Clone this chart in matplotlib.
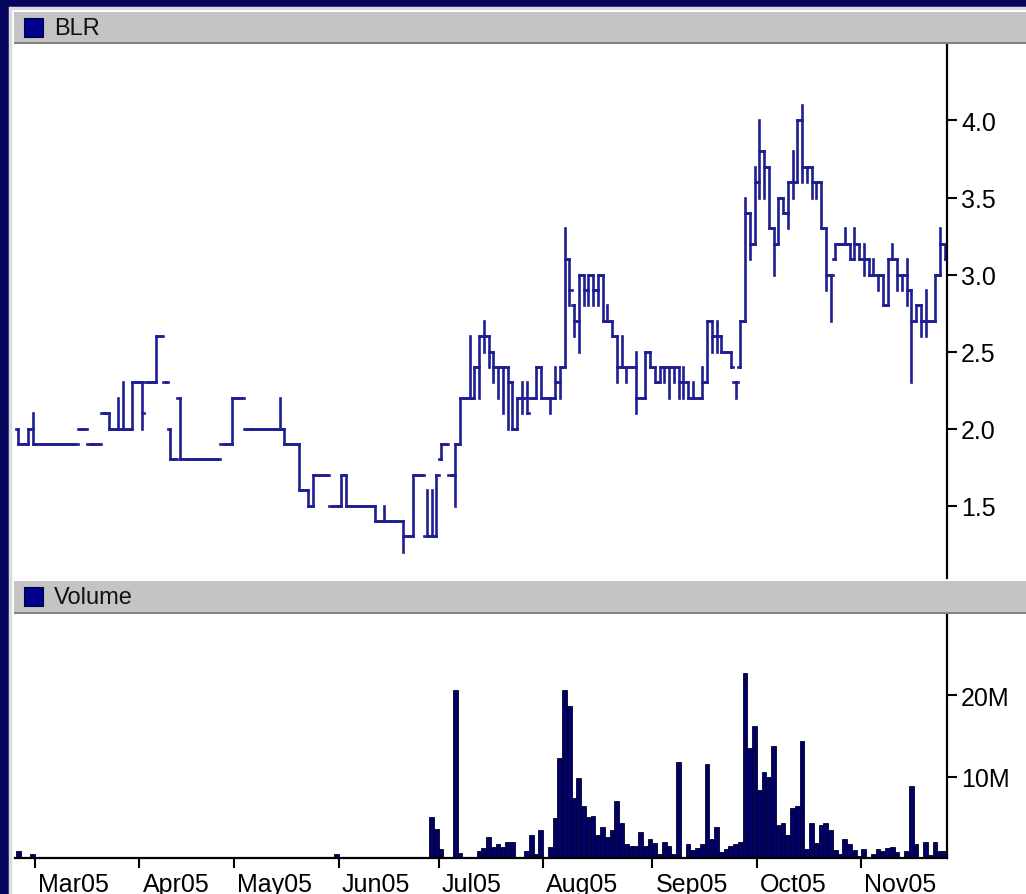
import numpy as np
import matplotlib
matplotlib.use("Agg")
import matplotlib.pyplot as plt
from matplotlib.collections import LineCollection
from matplotlib.patches import Rectangle
from matplotlib.transforms import ScaledTranslation

# --------------------------------------------------------------------- #
# Data: BLR daily bars, one entry per trading day (index 0 = mid Feb 05)
# --------------------------------------------------------------------- #
opens = [
    2.0, 1.9, 1.9, 2.0, 1.9, 1.9, 1.9, 1.9, 1.9, 1.9,
    1.9, 1.9, 1.9, 2.0, 2.0, 1.9, 1.9, 1.9, 2.1, 2.1,
    2.0, 2.0, 2.0, 2.0, 2.0, 2.3, 2.3, 2.3, 2.3, 2.3,
    2.6, 2.3, 2.0, 1.8, 2.2, 1.8, 1.8, 1.8, 1.8, 1.8,
    1.8, 1.8, 1.8, 1.9, 1.9, 1.9, 2.2, 2.2, 2.0, 2.0,
    2.0, 2.0, 2.0, 2.0, 2.0, 2.0, 2.0, 1.9, 1.9, 1.9,
    1.6, 1.6, 1.5, 1.7, 1.7, 1.7, 1.5, 1.5, 1.5, 1.7,
    1.5, 1.5, 1.5, 1.5, 1.5, 1.5, 1.4, 1.4, 1.4, 1.4,
    1.4, 1.4, 1.3, 1.3, 1.7, 1.7, 1.3, 1.3, 1.3, 1.8,
    1.9, 1.7, 1.7, 1.9, 2.2, 2.2, 2.2, 2.4, 2.6, 2.6,
    2.5, 2.4, 2.4, 2.4, 2.3, 2.0, 2.2, 2.2, 2.2, 2.2,
    2.4, 2.2, 2.2, 2.2, 2.3, 2.4, 3.1, 2.8, 2.7, 3.0,
    2.9, 3.0, 2.9, 3.0, 2.7, 2.7, 2.6, 2.4, 2.4, 2.4,
    2.4, 2.2, 2.2, 2.5, 2.4, 2.3, 2.4, 2.4, 2.4, 2.4,
    2.3, 2.3, 2.2, 2.2, 2.2, 2.3, 2.7, 2.6, 2.6, 2.5,
    2.5, 2.3, 2.4, 2.7, 3.4, 3.2, 3.6, 3.8, 3.7, 3.3,
    3.2, 3.5, 3.4, 3.6, 3.6, 4.0, 3.7, 3.7, 3.6, 3.6,
    3.3, 3.0, 3.1, 3.2, 3.2, 3.2, 3.1, 3.2, 3.1, 3.1,
    3.0, 3.0, 3.0, 2.8, 3.1, 3.1, 3.0, 3.0, 2.9, 2.7,
    2.8, 2.7, 2.7, 2.7, 3.0, 3.2,
]
highs = [
    2.0, 1.9, 2.0, 2.1, 1.9, 1.9, 1.9, 1.9, 1.9, 1.9,
    1.9, 1.9, 1.9, 2.0, 2.0, 1.9, 1.9, 1.9, 2.1, 2.1,
    2.0, 2.2, 2.3, 2.0, 2.3, 2.3, 2.3, 2.3, 2.3, 2.6,
    2.6, 2.3, 2.0, 1.8, 2.2, 1.8, 1.8, 1.8, 1.8, 1.8,
    1.8, 1.8, 1.8, 1.9, 1.9, 2.2, 2.2, 2.2, 2.0, 2.0,
    2.0, 2.0, 2.0, 2.0, 2.0, 2.2, 2.0, 1.9, 1.9, 1.9,
    1.6, 1.6, 1.7, 1.7, 1.7, 1.7, 1.5, 1.5, 1.7, 1.7,
    1.5, 1.5, 1.5, 1.5, 1.5, 1.5, 1.4, 1.5, 1.4, 1.4,
    1.4, 1.4, 1.3, 1.7, 1.7, 1.7, 1.6, 1.6, 1.7, 1.9,
    1.9, 1.7, 1.9, 2.2, 2.2, 2.6, 2.4, 2.6, 2.7, 2.6,
    2.5, 2.4, 2.4, 2.4, 2.3, 2.2, 2.3, 2.3, 2.2, 2.4,
    2.4, 2.2, 2.2, 2.4, 2.4, 3.3, 3.1, 2.8, 3.0, 3.0,
    3.0, 3.0, 3.0, 3.0, 2.8, 2.7, 2.6, 2.6, 2.4, 2.4,
    2.5, 2.2, 2.5, 2.5, 2.4, 2.4, 2.4, 2.4, 2.4, 2.4,
    2.4, 2.3, 2.3, 2.2, 2.4, 2.7, 2.7, 2.7, 2.6, 2.5,
    2.5, 2.3, 2.7, 3.5, 3.4, 3.7, 4.0, 3.8, 3.7, 3.3,
    3.5, 3.5, 3.6, 3.8, 4.0, 4.1, 3.7, 3.7, 3.6, 3.6,
    3.3, 3.0, 3.2, 3.2, 3.3, 3.2, 3.3, 3.2, 3.2, 3.1,
    3.1, 3.0, 3.0, 3.1, 3.2, 3.1, 3.0, 3.1, 2.9, 2.8,
    2.8, 2.9, 2.7, 3.0, 3.3, 3.2,
]
lows = [
    1.9, 1.9, 1.9, 1.9, 1.9, 1.9, 1.9, 1.9, 1.9, 1.9,
    1.9, 1.9, 1.9, 2.0, 2.0, 1.9, 1.9, 1.9, 2.1, 2.0,
    2.0, 2.0, 2.0, 2.0, 2.0, 2.3, 2.0, 2.3, 2.3, 2.3,
    2.6, 2.3, 1.8, 1.8, 1.8, 1.8, 1.8, 1.8, 1.8, 1.8,
    1.8, 1.8, 1.8, 1.9, 1.9, 1.9, 2.2, 2.2, 2.0, 2.0,
    2.0, 2.0, 2.0, 2.0, 2.0, 2.0, 1.9, 1.9, 1.9, 1.6,
    1.6, 1.5, 1.5, 1.7, 1.7, 1.7, 1.5, 1.5, 1.5, 1.5,
    1.5, 1.5, 1.5, 1.5, 1.5, 1.4, 1.4, 1.4, 1.4, 1.4,
    1.4, 1.2, 1.3, 1.3, 1.7, 1.7, 1.3, 1.3, 1.3, 1.8,
    1.9, 1.7, 1.5, 1.9, 2.2, 2.2, 2.2, 2.2, 2.5, 2.4,
    2.3, 2.2, 2.1, 2.0, 2.0, 2.0, 2.1, 2.1, 2.2, 2.2,
    2.2, 2.2, 2.1, 2.2, 2.2, 2.4, 2.8, 2.6, 2.5, 2.8,
    2.8, 2.8, 2.8, 2.7, 2.7, 2.6, 2.3, 2.4, 2.3, 2.4,
    2.1, 2.2, 2.2, 2.4, 2.3, 2.3, 2.3, 2.2, 2.3, 2.2,
    2.2, 2.2, 2.2, 2.2, 2.2, 2.3, 2.5, 2.5, 2.5, 2.5,
    2.4, 2.2, 2.4, 2.7, 3.1, 3.2, 3.5, 3.5, 3.3, 3.0,
    3.2, 3.4, 3.3, 3.5, 3.6, 3.6, 3.6, 3.5, 3.5, 3.3,
    2.9, 2.7, 3.1, 3.2, 3.2, 3.1, 3.1, 3.1, 3.0, 3.0,
    3.0, 2.9, 2.8, 2.8, 3.1, 2.9, 2.9, 2.8, 2.3, 2.7,
    2.6, 2.6, 2.7, 2.7, 3.0, 3.1,
]
closes = [
    1.9, 1.9, 2.0, 1.9, 1.9, 1.9, 1.9, 1.9, 1.9, 1.9,
    1.9, 1.9, 1.9, 2.0, 2.0, 1.9, 1.9, 1.9, 2.1, 2.0,
    2.0, 2.0, 2.0, 2.0, 2.3, 2.3, 2.1, 2.3, 2.3, 2.6,
    2.6, 2.3, 1.8, 1.8, 1.8, 1.8, 1.8, 1.8, 1.8, 1.8,
    1.8, 1.8, 1.8, 1.9, 1.9, 2.2, 2.2, 2.2, 2.0, 2.0,
    2.0, 2.0, 2.0, 2.0, 2.0, 2.0, 1.9, 1.9, 1.9, 1.6,
    1.6, 1.5, 1.7, 1.7, 1.7, 1.7, 1.5, 1.5, 1.7, 1.5,
    1.5, 1.5, 1.5, 1.5, 1.5, 1.4, 1.4, 1.4, 1.4, 1.4,
    1.4, 1.3, 1.3, 1.7, 1.7, 1.7, 1.3, 1.3, 1.7, 1.9,
    1.9, 1.7, 1.9, 2.2, 2.2, 2.2, 2.4, 2.6, 2.6, 2.5,
    2.4, 2.4, 2.4, 2.3, 2.0, 2.2, 2.2, 2.1, 2.2, 2.4,
    2.2, 2.2, 2.2, 2.3, 2.4, 3.1, 2.9, 2.7, 3.0, 2.9,
    3.0, 2.9, 3.0, 2.7, 2.7, 2.6, 2.4, 2.4, 2.4, 2.4,
    2.2, 2.2, 2.5, 2.4, 2.3, 2.4, 2.4, 2.4, 2.4, 2.3,
    2.3, 2.2, 2.2, 2.2, 2.3, 2.7, 2.6, 2.6, 2.5, 2.5,
    2.4, 2.3, 2.7, 3.4, 3.2, 3.6, 3.8, 3.7, 3.3, 3.2,
    3.5, 3.4, 3.6, 3.6, 4.0, 3.7, 3.7, 3.6, 3.6, 3.3,
    3.0, 3.0, 3.2, 3.2, 3.2, 3.1, 3.2, 3.1, 3.1, 3.0,
    3.0, 3.0, 2.8, 3.1, 3.1, 3.0, 3.0, 2.9, 2.7, 2.8,
    2.7, 2.7, 2.7, 3.0, 3.2, 3.1,
]

# Volume (millions of shares); days not listed traded nothing
vol_days = [0, 3, 67, 87, 88, 89, 92, 93, 97, 98, 99, 100, 101, 102, 103,
            104, 107, 108, 109, 110, 112, 113, 114, 115, 116, 117, 118, 119,
            120, 121, 122, 123, 124, 125, 126, 127, 128, 129, 130, 131, 132,
            133, 134, 135, 136, 137, 138, 139, 141, 142, 143, 144, 145, 146,
            147, 148, 149, 150, 151, 152, 153, 154, 155, 156, 157, 158, 159,
            160, 161, 162, 163, 164, 165, 166, 167, 168, 169, 170, 171, 172,
            173, 174, 175, 176, 177, 178, 180, 181, 182, 183, 184, 185, 187,
            188, 189, 191, 192, 193, 194, 195]
vol_millions = [0.8, 0.5, 0.5, 5.0, 3.6, 1.1, 20.7, 0.6, 0.8, 1.2, 2.6, 1.4,
                1.7, 1.4, 2.0, 2.0, 0.8, 2.8, 0.5, 3.5, 1.4, 4.9, 12.3, 20.7,
                18.7, 7.4, 9.8, 6.4, 5.1, 5.2, 2.8, 3.8, 2.6, 3.5, 7.0, 4.3,
                1.7, 1.5, 1.5, 3.2, 1.5, 2.3, 1.8, 0.5, 2.0, 1.5, 0.5, 11.8,
                1.7, 1.0, 1.2, 1.7, 11.5, 2.3, 3.8, 0.7, 1.1, 1.5, 1.7, 2.0,
                22.7, 13.5, 16.2, 8.3, 10.6, 10.0, 13.8, 4.1, 4.3, 2.8, 6.1,
                6.4, 14.4, 1.1, 4.3, 1.8, 4.1, 4.3, 3.5, 1.0, 0.5, 2.3, 1.7,
                1.0, 0.2, 1.1, 0.5, 1.1, 0.8, 1.2, 1.4, 0.7, 0.8, 8.8, 1.7,
                2.0, 0.4, 2.0, 0.8, 0.8]

# first trading day of each month (index into the daily series)
month_first_day = [4, 26, 46, 68, 89, 111, 134, 156, 178]
month_labels = ["Mar05", "Apr05", "May05", "Jun05", "Jul05",
                "Aug05", "Sep05", "Oct05", "Nov05"]

price_ticks = [1.5, 2.0, 2.5, 3.0, 3.5, 4.0]
volume_ticks = [10e6, 20e6]
volume_tick_labels = ["10M", "20M"]

# --------------------------------------------------------------------- #
# Layout helpers (pixel coordinates of the 1026x895 canvas)
# --------------------------------------------------------------------- #
W, H = 1026, 895
NAVY = "#06065e"
LINE = "#1e1e92"
BAR = "#000066"
HEADER = "#c6c3c6"
FONT = "Liberation Sans"


def frac(x0, y0, x1, y1):
    return [x0 / W, 1 - y1 / H, (x1 - x0) / W, (y1 - y0) / H]


def rect(fig, x0, y0, x1, y1, zorder=1, **kw):
    l, b, w, h = frac(x0, y0, x1, y1)
    fig.patches.append(Rectangle((l, b), w, h, transform=fig.transFigure,
                                 zorder=zorder, **kw))


def header(fig, y0, y1, title):
    rect(fig, 14, y0, W, y1, facecolor=HEADER, edgecolor="none")
    rect(fig, 14, y1 - 2, W, y1, facecolor="#858285", edgecolor="none")
    rect(fig, 24, y0 + 6, 43, y0 + 25, facecolor="#00008a",
         edgecolor="#000040", linewidth=0.8)
    fig.text(54 / W, 1 - (y0 + 16) / H, title, fontsize=17, family=FONT,
             color="#111111", va="center", ha="left")


fig = plt.figure(figsize=(W / 100, H / 100), dpi=100, facecolor=NAVY)

# window frame, kept underneath the axes
rect(fig, 10, 9, W + 5, H + 5, zorder=-5, facecolor="white",
     edgecolor="#dcdcdc", linewidth=2.5)
header(fig, 13, 45, "BLR")
header(fig, 582, 615, "Volume")

n = len(closes)
assert len(opens) == len(highs) == len(lows) == n
xlim = (-0.71, n - 0.5)

# --------------------------------------------------------------------- #
# Price panel
# --------------------------------------------------------------------- #
ax = fig.add_axes(frac(15, 46, 947, 579))
ax.set_facecolor("white")
segs = []
for i, (o, h, l, c) in enumerate(zip(opens, highs, lows, closes)):
    segs.append([(i, l), (i, h)])
    segs.append([(i - 0.5, o), (i, o)])
    segs.append([(i, c), (i + 0.5, c)])
ax.add_collection(LineCollection(segs, colors=LINE, linewidths=1.9,
                                 capstyle="projecting"))
ax.set_xlim(*xlim)
ax.set_ylim(1.03, 4.49)
for s in ("left", "top", "bottom"):
    ax.spines[s].set_visible(False)
ax.spines["right"].set_linewidth(1.6)
ax.set_xticks([])
ax.yaxis.tick_right()
ax.set_yticks(price_ticks)
ax.set_yticklabels([f"{v:.1f}" for v in price_ticks])
ax.tick_params(axis="y", length=7, width=1.5, pad=3, labelsize=18)
for t in ax.get_yticklabels():
    t.set_family(FONT)

# --------------------------------------------------------------------- #
# Volume panel
# --------------------------------------------------------------------- #
vol = np.zeros(n)
vol[vol_days] = np.array(vol_millions) * 1e6

axv = fig.add_axes(frac(15, 615, 947, 859))
axv.set_facecolor("white")
axv.bar(np.arange(n), vol, width=1.0, color=BAR, edgecolor="#000028",
        linewidth=0.6)
axv.set_xlim(*xlim)
axv.set_ylim(0, 30e6)
for s in ("left", "top"):
    axv.spines[s].set_visible(False)
axv.spines["right"].set_linewidth(1.6)
axv.spines["bottom"].set_linewidth(1.6)
axv.yaxis.tick_right()
axv.set_yticks(volume_ticks)
axv.set_yticklabels(volume_tick_labels)
axv.set_xticks([d - 0.5 for d in month_first_day])
axv.set_xticklabels(month_labels)
axv.tick_params(axis="both", length=7, width=1.5, pad=3, labelsize=18)
shift = ScaledTranslation(3 / 100, 0, fig.dpi_scale_trans)
for t in axv.get_xticklabels():
    t.set_family(FONT)
    t.set_horizontalalignment("left")
    t.set_transform(t.get_transform() + shift)
for t in axv.get_yticklabels():
    t.set_family(FONT)

fig.savefig("out.png", dpi=100, facecolor=NAVY)
